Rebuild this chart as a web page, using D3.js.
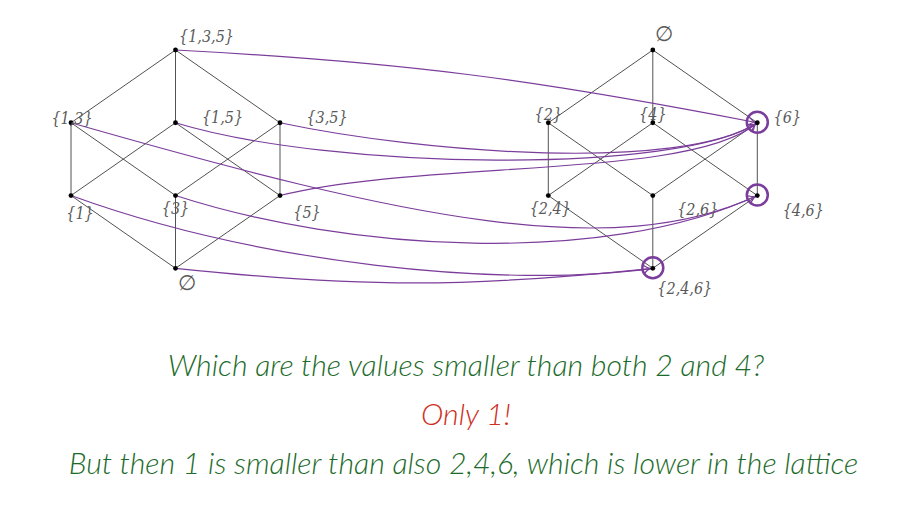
<!DOCTYPE html>
<html>
<head>
<meta charset="utf-8">
<script src="https://cdn.jsdelivr.net/npm/d3@7"></script>
<style>
  html, body { margin: 0; padding: 0; background: #fff; }
  svg { display: block; }
</style>
</head>
<body>
<svg id="chart" width="901" height="519"></svg>
<script>
// ---------- DATA ----------
// Left lattice: subsets of {1,3,5}
const leftNodes = ["{1,3,5}", "{1,3}", "{1,5}", "{3,5}", "{1}", "{3}", "{5}", "∅"];
const leftCol   = [1, 0, 1, 2, 0, 1, 2, 1];
const leftRank  = [0, 1, 1, 1, 2, 2, 2, 3];
const leftEdges = [
  ["{1,3,5}", "{1,3}"], ["{1,3,5}", "{1,5}"], ["{1,3,5}", "{3,5}"],
  ["{1,3}", "{1}"], ["{1,3}", "{3}"], ["{1,5}", "{1}"], ["{1,5}", "{5}"],
  ["{3,5}", "{3}"], ["{3,5}", "{5}"],
  ["{1}", "∅"], ["{3}", "∅"], ["{5}", "∅"]
];
// Right lattice: subsets of {2,4,6}, reversed order
const rightNodes = ["∅", "{2}", "{4}", "{6}", "{2,4}", "{2,6}", "{4,6}", "{2,4,6}"];
const rightCol   = [1, 0, 1, 2, 0, 1, 2, 1];
const rightRank  = [0, 1, 1, 1, 2, 2, 2, 3];
const rightEdges = [
  ["∅", "{2}"], ["∅", "{4}"], ["∅", "{6}"],
  ["{2}", "{2,4}"], ["{2}", "{2,6}"], ["{4}", "{2,4}"], ["{4}", "{4,6}"],
  ["{6}", "{2,6}"], ["{6}", "{4,6}"],
  ["{2,4}", "{2,4,6}"], ["{2,6}", "{2,4,6}"], ["{4,6}", "{2,4,6}"]
];
// Mapping arrows (left -> right)
const mapSource = ["{1,3,5}", "{1,5}", "{3,5}", "{5}", "{1,3}", "{3}", "{1}", "∅"];
const mapTarget = ["{6}", "{6}", "{6}", "{6}", "{4,6}", "{4,6}", "{2,4,6}", "{2,4,6}"];
const highlighted = ["{6}", "{4,6}", "{2,4,6}"];
// Caption lines
const captionLines = [
  "Which are the values smaller than both 2 and 4?",
  "Only 1!",
  "But then 1 is smaller than also 2,4,6, which is lower in the lattice"
];

// ---------- STYLE / LAYOUT ----------
const leftLabelOffset = {
  "{1,3,5}": [31, -14], "{1,3}": [1, -4], "{1,5}": [47, -5], "{3,5}": [47, -5],
  "{1}": [9, 18], "{3}": [0, 13], "{5}": [27, 17], "∅": [11, 15]
};
const rightLabelOffset = {
  "∅": [11, -16], "{2}": [0, -8], "{4}": [0, -8], "{6}": [30, -5],
  "{2,4}": [2, 13], "{2,6}": [45, 14], "{4,6}": [46, 15], "{2,4,6}": [32, 20]
};
// curve shapes: [out angle deg, out reach (frac of chord), in angle deg, in reach]
const curveShape = [
  [3, 0.39, 11, 0.39],
  [17, 0.28, -34, 0.16],
  [12, 0.31, -33, 0.19],
  [-14, 0.31, -41, 0.18],
  [16, 0.51, -25, 0.23],
  [18, 0.31, -25, 0.29],
  [20, 0.34, -8, 0.256],
  [6, 0.39, -6, 0.39]
];
const captionColors = ["#1c6b2a", "#cf2e1c", "#1c6b2a"];
const captionBaselines = [376, 425, 474];
const captionTargetWidths = [600, 89, 793];

const purple = "#7b3d9b";

// ---------- SCALES ----------
const rankY = d3.scaleLinear().domain([0, 3]).range([50, 268.3]);
const colLeft = d3.scaleLinear().domain([0, 2]).range([71, 280]);
const colRight = d3.scaleLinear().domain([0, 2]).range([548.3, 757.3]);

const svg = d3.select("#chart");

function buildNodes(names, cols, ranks, xs, side) {
  return names.map((n, i) => ({ name: n, x: xs(cols[i]), y: rankY(ranks[i]), side }));
}
const L = buildNodes(leftNodes, leftCol, leftRank, colLeft, "L");
const R = buildNodes(rightNodes, rightCol, rightRank, colRight, "R");
const Lmap = new Map(L.map(d => [d.name, d]));
const Rmap = new Map(R.map(d => [d.name, d]));

// defs: arrowhead
svg.append("defs").append("marker")
  .attr("id", "arr")
  .attr("markerUnits", "userSpaceOnUse")
  .attr("viewBox", "-8 -5 10 10")
  .attr("refX", 2.5).attr("refY", 0)
  .attr("markerWidth", 10).attr("markerHeight", 10)
  .attr("orient", "auto")
  .append("path")
  .attr("d", "M-6,-3.6 Q-2.5,-0.8 0,0 Q-2.5,0.8 -6,3.6")
  .attr("fill", "none")
  .attr("stroke", purple)
  .attr("stroke-width", 1);

// lattice edges
const gEdges = svg.append("g").attr("stroke", "#333").attr("stroke-width", 0.85);
gEdges.selectAll("line.l").data(leftEdges).join("line")
  .attr("class", "l")
  .attr("x1", d => Lmap.get(d[0]).x).attr("y1", d => Lmap.get(d[0]).y)
  .attr("x2", d => Lmap.get(d[1]).x).attr("y2", d => Lmap.get(d[1]).y);
gEdges.selectAll("line.r").data(rightEdges).join("line")
  .attr("class", "r")
  .attr("x1", d => Rmap.get(d[0]).x).attr("y1", d => Rmap.get(d[0]).y)
  .attr("x2", d => Rmap.get(d[1]).x).attr("y2", d => Rmap.get(d[1]).y);

// mapping curves
const rad = Math.PI / 180;
const arrows = mapSource.map((s, i) => ({ s: Lmap.get(s), t: Rmap.get(mapTarget[i]), shape: curveShape[i] }));
function curvePath(d) {
  const { s, t, shape } = d;
  const dist = Math.hypot(t.x - s.x, t.y - s.y);
  const a = shape[1] * dist, b = shape[3] * dist;
  const c1x = s.x + a * Math.cos(shape[0] * rad), c1y = s.y + a * Math.sin(shape[0] * rad);
  const c2x = t.x - b * Math.cos(shape[2] * rad), c2y = t.y - b * Math.sin(shape[2] * rad);
  const p = d3.path();
  p.moveTo(s.x, s.y);
  p.bezierCurveTo(c1x, c1y, c2x, c2y, t.x, t.y);
  return p.toString();
}
svg.append("g").selectAll("path").data(arrows).join("path")
  .attr("d", curvePath)
  .attr("fill", "none")
  .attr("stroke", purple)
  .attr("stroke-width", 1.2)
  .attr("marker-end", "url(#arr)");

// dots
svg.append("g").selectAll("circle").data(L.concat(R)).join("circle")
  .attr("cx", d => d.x).attr("cy", d => d.y).attr("r", 2.4).attr("fill", "#000");

// highlight circles
svg.append("g").selectAll("circle").data(highlighted.map(n => Rmap.get(n))).join("circle")
  .attr("cx", d => d.x).attr("cy", d => d.y - 0.5).attr("r", 10.5)
  .attr("fill", "none").attr("stroke", purple).attr("stroke-width", 2.5);

// node labels
const gLab = svg.append("g")
  .attr("font-family", "'DejaVu Serif Condensed', 'DejaVu Serif', serif")
  .attr("font-style", "italic")
  .attr("font-stretch", "condensed")
  .attr("font-size", 16)
  .attr("fill", "#5a5a5a")
  .attr("text-anchor", "middle");
function styleLabel(sel, offs) {
  sel.attr("x", d => d.x + offs[d.name][0])
    .attr("y", d => d.y + offs[d.name][1])
    .attr("dominant-baseline", "central")
    .each(function (d) {
      if (d.name === "∅") {
        d3.select(this)
          .attr("font-family", "'DejaVu Sans', sans-serif")
          .attr("font-style", "normal")
          .attr("font-stretch", "normal")
          .attr("font-weight", 300)
          .attr("font-size", 21);
      }
    })
    .text(d => d.name);
}
gLab.selectAll("text.l").data(L).join("text").attr("class", "l").call(styleLabel, leftLabelOffset);
gLab.selectAll("text.r").data(R).join("text").attr("class", "r").call(styleLabel, rightLabelOffset);

// captions
const caps = svg.append("g")
  .attr("font-family", "Lato, 'Open Sans', sans-serif")
  .attr("font-style", "italic")
  .attr("font-weight", 300)
  .attr("text-anchor", "middle")
  .selectAll("text").data(captionLines).join("text")
  .attr("x", (d, i) => i === 2 ? 463.5 : 466)
  .attr("y", (d, i) => captionBaselines[i])
  .attr("fill", (d, i) => captionColors[i])
  .attr("font-size", 24)
  .text(d => d);
// fit font size to reference widths (common size)
let ratio = 0;
caps.each(function (d, i) { ratio += captionTargetWidths[i] / this.getComputedTextLength(); });
ratio /= captionLines.length;
caps.attr("font-size", 24 * ratio);
</script>
</body>
</html>
